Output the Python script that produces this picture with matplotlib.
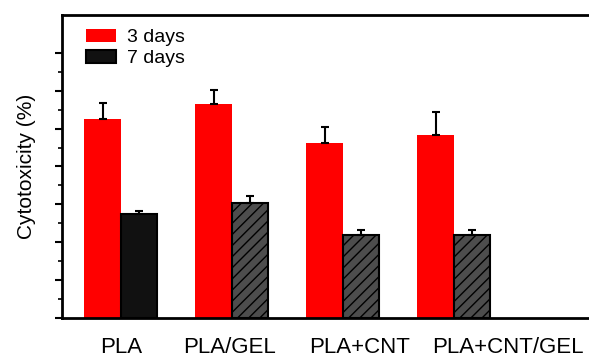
import numpy as np
import matplotlib
matplotlib.use('Agg')
import matplotlib.pyplot as plt
from matplotlib.ticker import FixedLocator

plt.rcParams['font.family'] = ['Liberation Sans', 'DejaVu Sans']
plt.rcParams['hatch.color'] = '#7a7a7a'
plt.rcParams['hatch.linewidth'] = 1.0

# data
groups = ['PLA', 'PLA/GEL', 'PLA+CNT', 'PLA+CNT/GEL']
label_pos = [0.0, 0.98, 2.15, 3.49]      # where the group names sit
day3 = [105.3, 113.0, 92.6, 96.8]
day3_err = [8.0, 7.5, 8.4, 11.8]
day7 = [55.1, 60.7, 43.7, 43.7]
day7_err = [1.4, 3.5, 3.0, 3.0]

day7_colors = ['#111111', '#4d4d4d', '#4d4d4d', '#4d4d4d']
day7_hatch = ['', '///', '///', '///']

fig = plt.figure(figsize=(5.89, 3.63), dpi=100)
ax = fig.add_axes([0.1053, 0.124, 0.913, 0.8347])

x = np.arange(len(groups))
w = 0.33

ax.bar(x - w/2, day3, w, color='#ff0000', label='3 days', zorder=2)
ax.errorbar(x - w/2, day3, yerr=[np.zeros(len(day3)), day3_err], fmt='none',
            ecolor='black', elinewidth=1.5, capsize=3, capthick=1.5, zorder=3)

for i in range(len(groups)):
    ax.bar(x[i] + w/2, day7[i], w, color=day7_colors[i], edgecolor='black',
           linewidth=1.5, hatch=day7_hatch[i], zorder=2,
           label='7 days' if i == 0 else None)
ax.errorbar(x + w/2, day7, yerr=[np.zeros(len(day7)), day7_err], fmt='none',
            ecolor='black', elinewidth=1.5, capsize=3, capthick=1.5, zorder=3)

ax.set_xlim(-0.53, 4.315)
ax.set_ylim(0, 160)

ax.set_xticks(label_pos)
ax.set_xticklabels(groups, fontsize=16)
ax.tick_params(axis='x', length=0, pad=14)

ax.yaxis.set_major_locator(FixedLocator(np.arange(0, 141, 20)))
ax.yaxis.set_minor_locator(FixedLocator(np.arange(10, 141, 20)))
ax.set_yticklabels([])
ax.tick_params(axis='y', which='major', direction='out', length=5, width=1.5)
ax.tick_params(axis='y', which='minor', direction='out', length=3, width=1.2)
ax.set_ylabel('Cytotoxicity (%)', fontsize=15, labelpad=10)

for s in ['left', 'top', 'bottom']:
    ax.spines[s].set_linewidth(2)
ax.spines['right'].set_visible(False)

leg = ax.legend(loc='upper left', fontsize=14, frameon=False,
                handlelength=1.5, handleheight=0.65, borderaxespad=0.5,
                borderpad=0.2, labelspacing=0.2, handletextpad=0.6,
                bbox_to_anchor=(0.02, 1.0))
leg.legend_handles[1].set_facecolor('#111111')
leg.legend_handles[1].set_hatch('')

fig.savefig('out.png', dpi=100)
